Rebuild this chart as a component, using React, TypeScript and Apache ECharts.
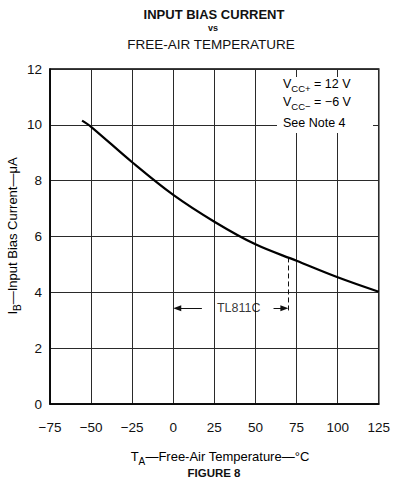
import React, { useEffect, useRef } from 'react';
import * as echarts from 'echarts';

// ---- data ----
const xTicks = [-75, -50, -25, 0, 25, 50, 75, 100, 125];
const yTicks = [0, 2, 4, 6, 8, 10, 12];
const temperatureC = [-55.5, -50, -25, 0, 25, 50, 75, 100, 125];
const biasCurrentUA = [10.15, 9.93, 8.66, 7.49, 6.53, 5.72, 5.13, 4.54, 4.02];

// TL811C operating-range annotation (data units)
const rangeLabel = 'TL811C';
const rangeArrowY = 3.43;
const rangeLeftSegment = [2.4, 17.4];
const rangeRightSegment = [61, 67.6];
const rangeLabelX = 39.8;
const dashedX = 70;
const dashedFromTo = [5.25, 3.3];

const titleLines = ['INPUT BIAS CURRENT', 'vs', 'FREE-AIR TEMPERATURE'];
const conditionLines = ['V{s|CC+} = 12 V', 'V{s|CC\u2212} = \u22126 V', 'See Note 4'];
const xName = 'T{s|A}\u2014Free-Air Temperature\u2014\u00b0C';
const yName = 'I{s|B}\u2014Input Bias Current\u2014\u03bcA';
const figureLabel = 'FIGURE 8';

const FONT = '"Liberation Sans", Arial, Helvetica, sans-serif';
const INK = '#111';

export default function App() {
  const ref = useRef<HTMLDivElement>(null);
  useEffect(() => {
    if (!ref.current) return;
    const chart = echarts.init(ref.current, null, { renderer: 'svg' });
    const fmt = (v: number) => String(v).replace('-', '\u2212');
    const subRich = (size: number, lh: number) => ({
      m: { fontSize: size, lineHeight: lh, fontFamily: FONT, color: INK },
      s: { fontSize: size - 3, lineHeight: size - 3, verticalAlign: 'bottom', fontFamily: FONT, color: INK },
    });
    const wrapM = (t: string) => t.split(/(\{s\|[^}]*\})/).filter(Boolean).map((p) => (p.startsWith('{s|') ? p : `{m|${p}}`)).join('');

    chart.setOption({
      animation: false,
      backgroundColor: '#fff',
      grid: {
        left: 50, right: 12, top: 69, bottom: 85,
        show: true, borderColor: '#000', borderWidth: 1.5, backgroundColor: 'transparent',
      },
      xAxis: {
        type: 'value', min: xTicks[0], max: xTicks[xTicks.length - 1], interval: 25,
        axisLine: { show: true, onZero: false, lineStyle: { color: '#000', width: 1.5 } },
        axisTick: { show: false },
        splitLine: { show: true, lineStyle: { color: '#2a2a2a', width: 1 } },
        axisLabel: { formatter: fmt, fontSize: 13.5, color: INK, fontFamily: FONT, margin: 16 },
      },
      yAxis: {
        type: 'value', min: yTicks[0], max: yTicks[yTicks.length - 1], interval: 2,
        axisLine: { show: true, onZero: false, lineStyle: { color: '#000', width: 1.5 } },
        axisTick: { show: false },
        splitLine: { show: true, lineStyle: { color: '#2a2a2a', width: 1 } },
        axisLabel: { formatter: fmt, fontSize: 13.5, color: INK, fontFamily: FONT, margin: 8 },
      },
      series: [
        {
          type: 'line',
          data: temperatureC.map((t, i) => [t, biasCurrentUA[i]]),
          smooth: 0.35,
          symbol: 'none',
          lineStyle: { color: '#000', width: 2.2 },
          silent: true,
          z: 5,
          markLine: {
            silent: true,
            symbol: 'none',
            label: { show: false },
            data: [
              [
                { coord: [dashedX, dashedFromTo[0]], lineStyle: { type: [5, 3], width: 1, color: '#111' } },
                { coord: [dashedX, dashedFromTo[1]] },
              ],
              [
                { coord: [rangeLeftSegment[0], rangeArrowY], symbol: 'triangle', symbolSize: [6, 8], lineStyle: { type: 'solid', width: 1, color: '#111' } },
                { coord: [rangeLeftSegment[1], rangeArrowY], symbol: 'none' },
              ],
              [
                { coord: [rangeRightSegment[0], rangeArrowY], symbol: 'none', lineStyle: { type: 'solid', width: 1, color: '#111' } },
                { coord: [rangeRightSegment[1], rangeArrowY], symbol: 'triangle', symbolSize: [6, 8] },
              ],
            ],
          },
        },
        {
          type: 'scatter',
          data: [[rangeLabelX, rangeArrowY]],
          symbolSize: 0,
          itemStyle: { color: '#000' },
          silent: true,
          label: {
            show: true, position: 'inside', formatter: rangeLabel,
            fontSize: 12.5, color: '#000', fontFamily: FONT, textBorderWidth: 0,
          },
        },
      ],
      graphic: [
        { type: 'text', x: 214, y: 14, z: 10, style: { text: titleLines[0], fontSize: 13, fontWeight: 'bold', fontFamily: FONT, fill: INK, align: 'center', verticalAlign: 'middle' } },
        { type: 'text', x: 213, y: 28, z: 10, style: { text: titleLines[1], fontSize: 9, fontWeight: 'bold', fontFamily: FONT, fill: INK, align: 'center', verticalAlign: 'middle' } },
        { type: 'text', x: 211, y: 44, z: 10, style: { text: titleLines[2], fontSize: 13.5, fontFamily: FONT, fill: INK, align: 'center', verticalAlign: 'middle' } },
        { type: 'rect', z: 10, shape: { x: 277, y: 77, width: 96, height: 56 }, style: { fill: '#fff' } },
        ...conditionLines.map((t, i) => ({
          type: 'text', x: 283, y: [84, 102, 123][i], z: 11,
          style: { text: wrapM(t), rich: subRich(12.5, 18), align: 'left', verticalAlign: 'middle' },
        })),
        {
          type: 'text', x: 220, y: 456, z: 10,
          style: { text: wrapM(xName), rich: subRich(13, 20), align: 'center', verticalAlign: 'middle' },
        },
        { type: 'text', x: 214, y: 473, z: 10, style: { text: figureLabel, fontSize: 11.5, fontWeight: 'bold', fontFamily: FONT, fill: INK, align: 'center', verticalAlign: 'middle' } },
        {
          type: 'text', x: 12, y: 236, rotation: Math.PI / 2, z: 10,
          style: { text: wrapM(yName), rich: subRich(13, 20), align: 'center', verticalAlign: 'middle' },
        },
      ],
    });
    return () => chart.dispose();
  }, []);
  return <div ref={ref} style={{ width: 393, height: 489, position: 'absolute', left: 0, top: 0 }} />;
}
